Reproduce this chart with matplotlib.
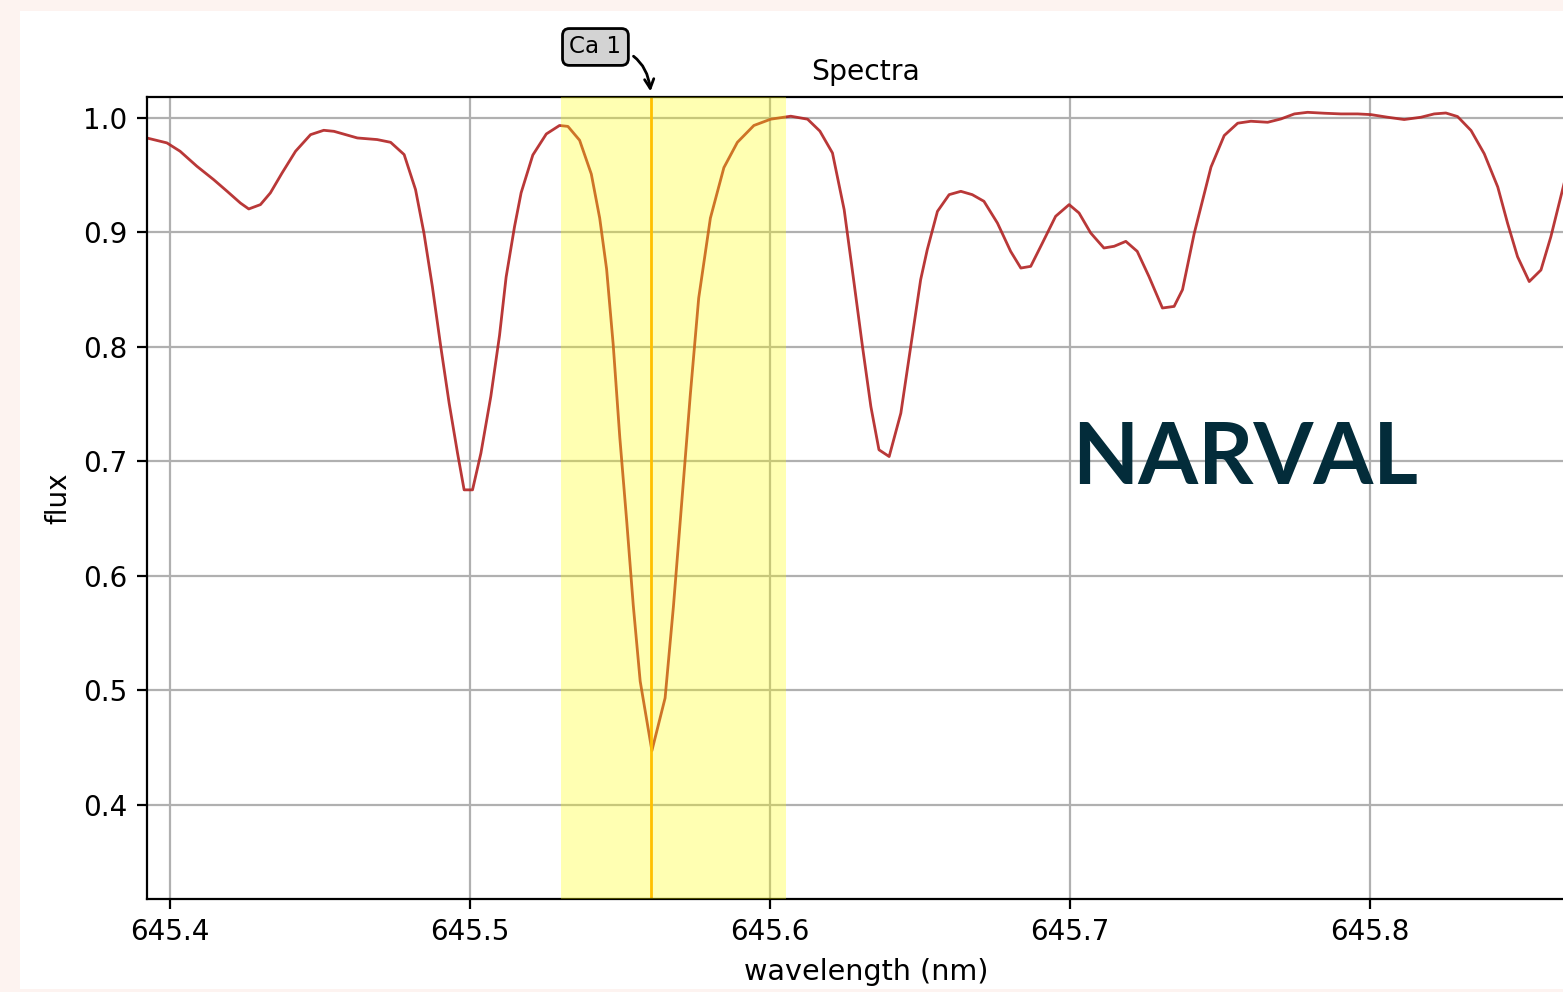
import matplotlib.pyplot as plt
from matplotlib.patches import Rectangle

# spectrum (wavelength in nm, normalised flux)
wavelength = [
    645.3922, 645.3989, 645.4033, 645.4089, 645.4145, 645.4190, 645.4234, 645.4262,
    645.4301, 645.4334, 645.4373, 645.4418, 645.4468, 645.4512, 645.4546, 645.4624,
    645.4690, 645.4735, 645.4780, 645.4818, 645.4846, 645.4874, 645.4902, 645.4930,
    645.4958, 645.4980, 645.5008, 645.5036, 645.5069, 645.5098, 645.5120, 645.5148,
    645.5170, 645.5209, 645.5254, 645.5298, 645.5326, 645.5365, 645.5404, 645.5432,
    645.5455, 645.5477, 645.5499, 645.5522, 645.5544, 645.5567, 645.5606, 645.5650,
    645.5678, 645.5706, 645.5734, 645.5762, 645.5801, 645.5846, 645.5891, 645.5946,
    645.6002, 645.6069, 645.6125, 645.6166, 645.6208, 645.6247, 645.6280, 645.6308,
    645.6336, 645.6363, 645.6397, 645.6436, 645.6469, 645.6502, 645.6524, 645.6558,
    645.6597, 645.6636, 645.6674, 645.6713, 645.6758, 645.6802, 645.6836, 645.6869,
    645.6908, 645.6952, 645.6997, 645.7030, 645.7069, 645.7113, 645.7147, 645.7186,
    645.7224, 645.7263, 645.7308, 645.7347, 645.7375, 645.7414, 645.7470, 645.7514,
    645.7559, 645.7603, 645.7659, 645.7703, 645.7748, 645.7792, 645.7848, 645.7903,
    645.7959, 645.8003, 645.8059, 645.8114, 645.8170, 645.8214, 645.8253, 645.8292,
    645.8337, 645.8381, 645.8426, 645.8459, 645.8492, 645.8531, 645.8570, 645.8603,
    645.8647, 645.8690,
]
flux = [
    0.9825, 0.9782, 0.9709, 0.9578, 0.9461, 0.9359, 0.9257, 0.9205,
    0.9243, 0.9345, 0.9519, 0.9709, 0.9854, 0.9892, 0.9883, 0.9825,
    0.9811, 0.9787, 0.9680, 0.9374, 0.8995, 0.8529, 0.8005, 0.7510,
    0.7073, 0.6752, 0.6752, 0.7073, 0.7568, 0.8100, 0.8610, 0.9050,
    0.9346, 0.9676, 0.9860, 0.9934, 0.9926, 0.9805, 0.9510, 0.9125,
    0.8680, 0.8020, 0.7210, 0.6480, 0.5740, 0.5080, 0.4474, 0.4934,
    0.5740, 0.6660, 0.7580, 0.8426, 0.9125, 0.9566, 0.9787, 0.9934,
    0.9989, 1.0015, 0.9989, 0.9885, 0.9694, 0.9199, 0.8558, 0.8005,
    0.7480, 0.7102, 0.7043, 0.7422, 0.8005, 0.8587, 0.8849, 0.9184,
    0.9330, 0.9359, 0.9330, 0.9272, 0.9082, 0.8835, 0.8689, 0.8704,
    0.8908, 0.9141, 0.9243, 0.9170, 0.8995, 0.8864, 0.8879, 0.8922,
    0.8835, 0.8616, 0.8340, 0.8354, 0.8500, 0.8991, 0.9571, 0.9846,
    0.9954, 0.9971, 0.9962, 0.9991, 1.0035, 1.0049, 1.0041, 1.0035,
    1.0035, 1.0029, 1.0006, 0.9986, 1.0006, 1.0035, 1.0043, 1.0012,
    0.9890, 0.9687, 0.9397, 0.9078, 0.8788, 0.8571, 0.8672, 0.8962,
    0.9426, 0.9850,
]

line_center = 645.5603
span_start = 645.5303
span_end = 645.6053
line_label = "Ca 1"

fig = plt.figure(figsize=(7.815, 4.96), dpi=200, facecolor="#fdf3f0")
fig.patches.append(Rectangle((0.0128, 0.003), 1.0, 0.986, transform=fig.transFigure,
                             facecolor="white", edgecolor="none", zorder=-1))

ax = fig.add_axes([0.0941, 0.09375, 0.92, 0.8085])
ax.set_zorder(1)
ax.plot(wavelength, flux, color="firebrick", lw=1.0, alpha=0.9)
ax.axvline(line_center, color="orange", lw=1.0)
ax.axvspan(span_start, span_end, color="yellow", alpha=0.3, lw=0, zorder=3)

ax.set_xlim(645.3923, 645.8717)
ax.set_ylim(0.3179, 1.0183)
ax.ticklabel_format(useOffset=False)
ax.grid(True)
ax.set_xlabel("wavelength (nm)", fontsize=10.3)
ax.set_ylabel("flux")
ax.set_title("Spectra", fontsize=10.2)

ax.annotate(line_label, xy=(line_center, 1.0183), xycoords="data",
            xytext=(-20, 18), textcoords="offset points",
            ha="center", va="center", fontsize=8.3,
            bbox=dict(boxstyle="round", fc="lightgray", ec="black"),
            arrowprops=dict(arrowstyle="->", color="black",
                            connectionstyle="arc3,rad=-0.5"),
            annotation_clip=False)

fig.text(0.7966, 0.5363, "NARVAL", ha="center", va="center", zorder=5,
         fontsize=31, fontweight="bold", family="Lato", color="#032c3a")

fig.savefig("out.png", dpi=200, facecolor=fig.get_facecolor())
